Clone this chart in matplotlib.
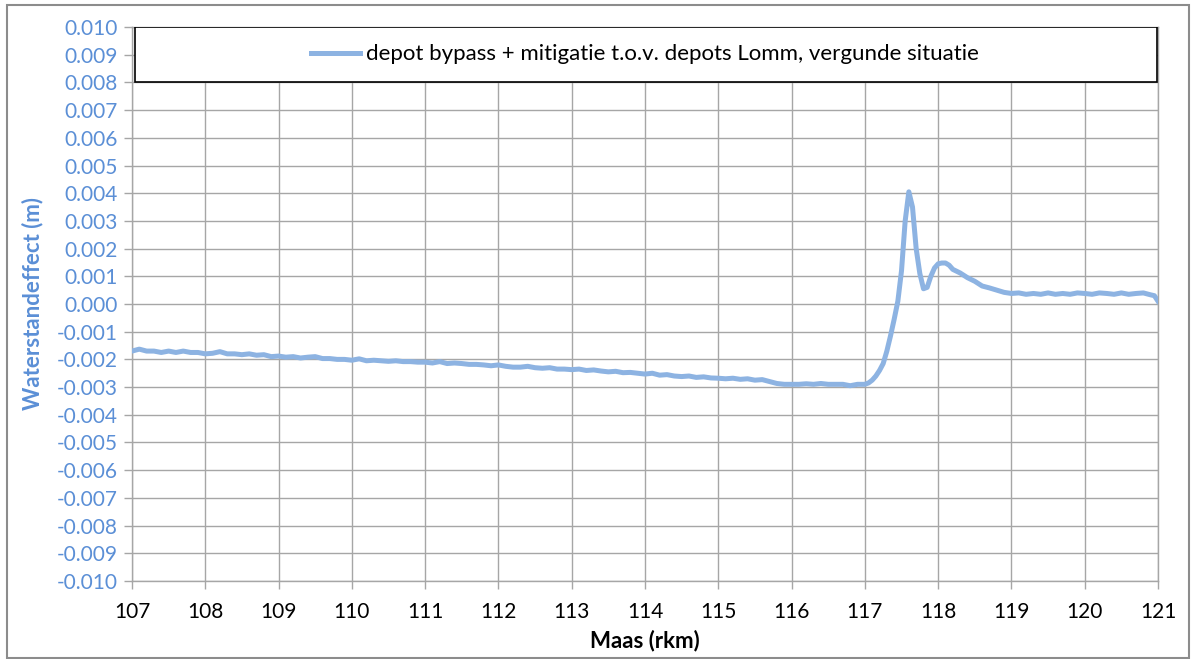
import matplotlib.pyplot as plt
from matplotlib.patches import Rectangle

# rkm along the Maas
km = [107.0, 107.1, 107.2, 107.3, 107.4, 107.5, 107.6, 107.7, 107.8, 107.9,
      108.0, 108.1, 108.2, 108.3, 108.4, 108.5, 108.6, 108.7, 108.8, 108.9,
      109.0, 109.1, 109.2, 109.3, 109.4, 109.5, 109.6, 109.7, 109.8, 109.9,
      110.0, 110.1, 110.2, 110.3, 110.4, 110.5, 110.6, 110.7, 110.8, 110.9,
      111.0, 111.1, 111.2, 111.3, 111.4, 111.5, 111.6, 111.7, 111.8, 111.9,
      112.0, 112.1, 112.2, 112.3, 112.4, 112.5, 112.6, 112.7, 112.8, 112.9,
      113.0, 113.1, 113.2, 113.3, 113.4, 113.5, 113.6, 113.7, 113.8, 113.9,
      114.0, 114.1, 114.2, 114.3, 114.4, 114.5, 114.6, 114.7, 114.8, 114.9,
      115.0, 115.1, 115.2, 115.3, 115.4, 115.5, 115.6, 115.7, 115.8, 115.9,
      116.0, 116.1, 116.2, 116.3, 116.4, 116.5, 116.6, 116.7, 116.8, 116.9,
      117.0, 117.05, 117.1, 117.15, 117.2, 117.25, 117.3, 117.35, 117.4, 117.45,
      117.5, 117.55, 117.6, 117.65, 117.7, 117.75, 117.8, 117.85, 117.9, 117.95,
      118.0, 118.05, 118.1, 118.15, 118.2, 118.3, 118.4, 118.5, 118.6, 118.7,
      118.8, 118.9, 119.0, 119.1, 119.2, 119.3, 119.4, 119.5, 119.6, 119.7,
      119.8, 119.9, 120.0, 120.1, 120.2, 120.3, 120.4, 120.5, 120.6, 120.7,
      120.8, 120.9, 120.95, 121.0]

# waterstandeffect (m)
effect = [-0.00170, -0.00163, -0.00170, -0.00170, -0.00175, -0.00170, -0.00175, -0.00170, -0.00175, -0.00175,
          -0.00180, -0.00178, -0.00172, -0.00180, -0.00180, -0.00183, -0.00180, -0.00185, -0.00183, -0.00190,
          -0.00188, -0.00192, -0.00190, -0.00195, -0.00192, -0.00190, -0.00197, -0.00197, -0.00200, -0.00200,
          -0.00203, -0.00198, -0.00205, -0.00203, -0.00205, -0.00207, -0.00205, -0.00208, -0.00208, -0.00210,
          -0.00210, -0.00213, -0.00208, -0.00215, -0.00213, -0.00215, -0.00218, -0.00218, -0.00220, -0.00223,
          -0.00220, -0.00225, -0.00228, -0.00228, -0.00225, -0.00230, -0.00232, -0.00230, -0.00235, -0.00235,
          -0.00237, -0.00235, -0.00240, -0.00238, -0.00242, -0.00245, -0.00243, -0.00248, -0.00247, -0.00250,
          -0.00253, -0.00250, -0.00257, -0.00255, -0.00260, -0.00262, -0.00260, -0.00265, -0.00263, -0.00267,
          -0.00268, -0.00270, -0.00268, -0.00272, -0.00270, -0.00275, -0.00273, -0.00280, -0.00287, -0.00290,
          -0.00290, -0.00290, -0.00288, -0.00290, -0.00287, -0.00290, -0.00290, -0.00290, -0.00295, -0.00290,
          -0.00290, -0.00285, -0.00275, -0.00260, -0.00240, -0.00215, -0.00170, -0.00115, -0.00055, 0.00010,
          0.00120, 0.00300, 0.00405, 0.00350, 0.00200, 0.00110, 0.00055, 0.00060, 0.00100, 0.00130,
          0.00145, 0.00148, 0.00148, 0.00140, 0.00125, 0.00112, 0.00095, 0.00082, 0.00065, 0.00058,
          0.00050, 0.00042, 0.00038, 0.00040, 0.00035, 0.00038, 0.00035, 0.00040, 0.00035, 0.00038,
          0.00035, 0.00040, 0.00038, 0.00035, 0.00040, 0.00038, 0.00035, 0.00040, 0.00035, 0.00038,
          0.00040, 0.00033, 0.00030, 0.00010]

xticks = list(range(107, 122))
yticks = [i / 1000 for i in range(-10, 11)]
label = 'depot bypass + mitigatie t.o.v. depots Lomm, vergunde situatie'

plt.rcParams['font.family'] = ['Lato', 'DejaVu Sans']
blue_txt = '#5b8fd6'
line_col = '#8db3e2'
grid_col = '#a6a6a6'

fig = plt.figure(figsize=(11.92, 6.59), dpi=100)
ax = fig.add_axes([0.1107, 0.1184, 0.8608, 0.8406])

# outer chart border
fig.patches.append(Rectangle((7 / 1192, 0.002), 1182 / 1192, 1 - 5 / 659 - 0.002,
                             transform=fig.transFigure, fill=False,
                             edgecolor='#8c8c8c', linewidth=1.5))

ax.plot(km, effect, color=line_col, linewidth=3.6, solid_joinstyle='round',
        label=label, zorder=3)

ax.set_xlim(107, 121)
ax.set_ylim(-0.010, 0.010)
ax.set_xticks(xticks)
ax.set_yticks(yticks)
ax.set_yticklabels(['%.3f' % v for v in yticks])
ax.grid(True, color=grid_col, linewidth=1.0)
ax.set_axisbelow(True)
for s in ax.spines.values():
    s.set_color(grid_col)
    s.set_linewidth(1.0)

ax.tick_params(axis='y', colors=grid_col, labelcolor=blue_txt, labelsize=15,
               length=6, direction='out', width=1, pad=4)
ax.tick_params(axis='x', colors=grid_col, labelcolor='black', labelsize=15,
               length=6, direction='out', width=1, pad=9)

ax.set_xlabel('Maas (rkm)', fontsize=16, fontweight='bold', labelpad=6)
ax.set_ylabel('Waterstandeffect (m)', fontsize=16, fontweight='bold',
              color=blue_txt, labelpad=10)

# legend box across the top
ax.add_patch(Rectangle((0.003, 0.9007), 0.996, 0.0993, transform=ax.transAxes,
                       facecolor='white', edgecolor='black', linewidth=1.2, zorder=4))
leg = ax.legend(loc='center', bbox_to_anchor=(0.5, 0.9505), frameon=False,
                fontsize=16, handlelength=2.2, handletextpad=0.3)
leg.set_zorder(5)

fig.savefig('out.png', dpi=100)
